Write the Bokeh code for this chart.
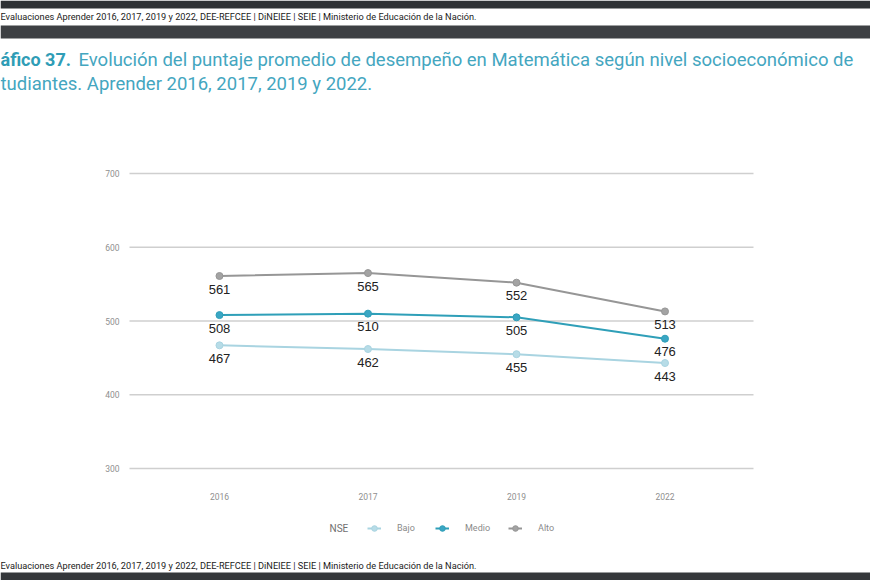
from bokeh.plotting import figure
from bokeh.models import (Range1d, FixedTicker, Label, Legend, LegendItem,
                          ColumnDataSource, LinearAxis, BoxAnnotation)
from bokeh.core.properties import value
from bokeh.embed import file_html
from bokeh.resources import INLINE

# ---- data ----
years = ["2016", "2017", "2019", "2022"]
bajo = [467, 462, 455, 443]
medio = [508, 510, 505, 476]
alto = [561, 565, 552, 513]
series_names = ["Bajo", "Medio", "Alto"]
y_ticks = [300, 400, 500, 600, 700]

title_bold = "áfico 37."
title_l1 = "Evolución del puntaje promedio de  desempeño en Matemática según nivel socioeconómico de"
title_l2 = "tudiantes. Aprender  2016, 2017, 2019 y 2022."
source_txt = "Evaluaciones Aprender 2016, 2017, 2019 y 2022, DEE-REFCEE | DiNEIEE | SEIE | Ministerio de Educación de la Nación."

W, H = 870, 580
xs = list(range(len(years)))

# the frame covers the whole canvas; chart area is x in [-0.606, 3.596], y in [300, 700]
X_LO, X_HI = -0.606, 3.596
p = figure(width=W, height=H, output_backend="svg", toolbar_location=None,
           x_range=Range1d(-1.4747, 4.3838), y_range=Range1d(148.14, 934.58),
           x_axis_location=None, y_axis_location=None,
           min_border=0)
p.outline_line_color = None
p.xgrid.grid_line_color = None
p.ygrid.grid_line_color = None

# grid lines (bounded to the chart area)
p.segment(x0=[X_LO] * len(y_ticks), x1=[X_HI] * len(y_ticks), y0=y_ticks, y1=y_ticks,
          line_color="#cfcfcf", line_width=1.5)

yax = LinearAxis(fixed_location=X_LO, ticker=FixedTicker(ticks=y_ticks))
xax = LinearAxis(fixed_location=y_ticks[0], ticker=FixedTicker(ticks=xs),
                 major_label_overrides={i: y for i, y in enumerate(years)})
for ax in (xax, yax):
    ax.axis_line_color = None
    ax.major_tick_line_color = None
    ax.minor_tick_line_color = None
    ax.major_label_text_color = "#8f8f8f"
    ax.major_label_text_font = "Roboto"
    ax.major_label_text_font_size = "8.5px"
yax.major_label_standoff = 4
xax.major_label_standoff = 18
p.add_layout(yax, "left")
p.add_layout(xax, "below")

colors = {"Bajo": "#a9d4e1", "Medio": "#2f9fb8", "Alto": "#969696"}
mcolors = {"Bajo": "#b7dce7", "Medio": "#3aa6c4", "Alto": "#a3a3a3"}
data = {"Bajo": bajo, "Medio": medio, "Alto": alto}

items = []
for name in series_names:
    vals = data[name]
    src = ColumnDataSource(dict(x=xs, y=vals, lab=[str(v) for v in vals]))
    rl = p.line("x", "y", source=src, line_color=colors[name], line_width=2)
    rp = p.scatter("x", "y", source=src, size=7, fill_color=mcolors[name],
                   line_color=colors[name], line_width=1)
    p.text("x", "y", text="lab", source=src, text_font=value("Liberation Sans"),
           text_font_size="13px", text_color="#222222", text_align="center",
           text_baseline="top", y_offset=8.5)
    items.append(LegendItem(label=name, renderers=[rl, rp]))

legend = Legend(items=items, orientation="horizontal",
                label_text_font="Roboto", label_text_font_size="9px",
                label_text_color="#8a8a8a", label_standoff=16, spacing=18,
                glyph_width=14, glyph_height=14, padding=0, margin=0,
                background_fill_alpha=0, border_line_color=None,
                location=(367, 45))
p.add_layout(legend)

# dark screen bands of the photographed page
for t, b, c in [(0, 8, "#2f3235"), (25, 38, "#3d4043"), (572, 580, "#35383b")]:
    p.add_layout(BoxAnnotation(left=0, right=W, top=t, bottom=b,
                               left_units="canvas", right_units="canvas",
                               top_units="canvas", bottom_units="canvas",
                               fill_color=c, fill_alpha=1, line_color=None))

def lab(x, y, text, size, color, style="normal", font="Roboto"):
    p.add_layout(Label(x=x, y=y, x_units="canvas", y_units="canvas", text=text,
                       text_font=font, text_font_size=size, text_color=color,
                       text_font_style=style, text_baseline="middle"))

lab(0, 16, source_txt, "9.2px", "#1a1a1a")
lab(0, 565, source_txt, "9.2px", "#1a1a1a")
lab(0, 59, title_bold, "18px", "#2f9db6", "bold")
lab(78, 59, title_l1, "18.5px", "#44a6bf")
lab(0, 83, title_l2, "18.5px", "#44a6bf")
lab(329, 528, "NSE", "10px", "#707070")

open("out.html", "w").write(file_html(p, INLINE))
